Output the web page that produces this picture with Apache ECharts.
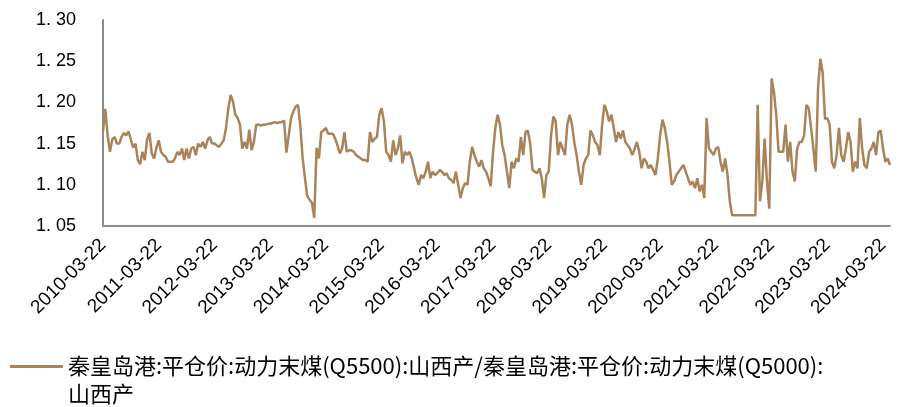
<!DOCTYPE html>
<html>
<head>
<meta charset="utf-8">
<script src="https://cdn.jsdelivr.net/npm/echarts@6/dist/echarts.min.js"></script>
<style>html,body{margin:0;padding:0;background:#fff}#chart{width:915px;height:407px}</style>
</head>
<body>
<div id="chart"></div>
<script>
// sampling dates within each year (starting at 03-22)
const monthDays = ['03-22','04-07','04-22','05-07','05-22','06-07','06-22','07-07','07-22','08-07','08-22','09-07',
                   '09-22','10-07','10-22','11-07','11-22','12-07','12-22','01-07','01-22','02-07','02-22','03-07'];
const years = [2010,2011,2012,2013,2014,2015,2016,2017,2018,2019,2020,2021,2022,2023,2024];

const v2010 = [1.165,1.192,1.160,1.140,1.155,1.158,1.150,1.150,1.158,1.163,1.160,1.165,1.155,1.145,1.150,1.130,1.125,1.140,1.130,1.155,1.163,1.138,1.132,1.145];
const v2011 = [1.154,1.140,1.136,1.134,1.128,1.128,1.128,1.132,1.140,1.136,1.144,1.130,1.144,1.132,1.144,1.146,1.136,1.150,1.146,1.152,1.144,1.154,1.158,1.150];
const v2012 = [1.150,1.148,1.146,1.150,1.154,1.169,1.193,1.209,1.201,1.185,1.181,1.173,1.144,1.152,1.144,1.167,1.142,1.152,1.173,1.173,1.172,1.173,1.173,1.174];
const v2013 = [1.174,1.175,1.176,1.175,1.176,1.176,1.178,1.139,1.160,1.181,1.189,1.195,1.197,1.172,1.132,1.108,1.086,1.082,1.078,1.060,1.145,1.132,1.164,1.166];
const v2014 = [1.169,1.162,1.162,1.162,1.156,1.148,1.138,1.144,1.164,1.140,1.142,1.142,1.140,1.136,1.134,1.132,1.130,1.130,1.128,1.164,1.152,1.156,1.158,1.185];
const v2015 = [1.193,1.177,1.140,1.136,1.128,1.154,1.136,1.144,1.160,1.126,1.140,1.136,1.140,1.132,1.120,1.108,1.100,1.112,1.108,1.116,1.128,1.108,1.116,1.112];
const v2016 = [1.114,1.118,1.116,1.112,1.114,1.108,1.106,1.102,1.116,1.100,1.084,1.096,1.102,1.100,1.128,1.146,1.136,1.128,1.122,1.130,1.120,1.116,1.108,1.098];
const v2017 = [1.140,1.169,1.185,1.173,1.148,1.136,1.116,1.096,1.128,1.120,1.132,1.128,1.158,1.136,1.164,1.166,1.150,1.118,1.116,1.114,1.120,1.108,1.084,1.112];
const v2018 = [1.116,1.160,1.183,1.177,1.136,1.152,1.144,1.136,1.173,1.185,1.173,1.152,1.136,1.116,1.100,1.124,1.132,1.136,1.166,1.160,1.152,1.148,1.136,1.173];
const v2019 = [1.197,1.189,1.177,1.185,1.169,1.152,1.164,1.156,1.166,1.152,1.148,1.144,1.136,1.144,1.152,1.140,1.120,1.132,1.128,1.120,1.124,1.118,1.112,1.132];
const v2020 = [1.160,1.179,1.169,1.152,1.128,1.100,1.104,1.112,1.116,1.120,1.124,1.116,1.108,1.100,1.104,1.096,1.108,1.092,1.100,1.084,1.181,1.144,1.140,1.136];
const v2021 = [1.144,1.146,1.128,1.116,1.132,1.112,1.080,1.063,1.063,1.063,1.063,1.063,1.063,1.063,1.063,1.063,1.063,1.063,1.197,1.080,1.104,1.156,1.104,1.071];
const v2022 = [1.229,1.213,1.185,1.140,1.140,1.140,1.173,1.128,1.152,1.116,1.104,1.144,1.152,1.152,1.160,1.197,1.193,1.169,1.144,1.116,1.217,1.253,1.236,1.180];
const v2023 = [1.181,1.173,1.128,1.120,1.136,1.169,1.136,1.128,1.144,1.164,1.152,1.116,1.128,1.120,1.181,1.144,1.124,1.120,1.140,1.144,1.152,1.136,1.164,1.166];
const v2024 = [1.144,1.128,1.132,1.124];

const yearValues = [v2010,v2011,v2012,v2013,v2014,v2015,v2016,v2017,v2018,v2019,v2020,v2021,v2022,v2023,v2024];
const seriesName = '秦皇岛港:平仓价:动力末煤(Q5500):山西产/秦皇岛港:平仓价:动力末煤(Q5000):山西产';
const yMin = 1.05, yMax = 1.30, yStep = 0.05;

const dates = [];
const values = [];
years.forEach((y, k) => {
  yearValues[k].forEach((v, j) => {
    const yy = j >= 19 ? y + 1 : y;
    dates.push(yy + '-' + monthDays[j]);
    values.push(v);
  });
});

const color = '#A9845A';
const chart = echarts.init(document.getElementById('chart'));
chart.setOption({
  animation: false,
  backgroundColor: '#fff',
  grid: { left: 103, right: 25, top: 20, bottom: 181, containLabel: false },
  xAxis: {
    type: 'category',
    data: dates,
    boundaryGap: false,
    axisLine: { show: true, lineStyle: { color: '#8c8c8c', width: 2 } },
    axisTick: { show: false },
    splitLine: { show: false },
    axisLabel: {
      interval: (idx, val) => val.endsWith('-03-22'),
      rotate: 45,
      margin: 16,
      fontSize: 19,
      color: '#000',
      fontFamily: 'Liberation Sans, Arial, sans-serif'
    }
  },
  yAxis: {
    type: 'value',
    min: yMin, max: yMax, interval: yStep,
    axisLine: { show: true, lineStyle: { color: '#8c8c8c', width: 2 } },
    axisTick: { show: false },
    splitLine: { show: false },
    axisLabel: {
      margin: 27,
      fontSize: 18,
      color: '#000',
      fontFamily: 'Liberation Sans, Arial, sans-serif',
      formatter: v => Number(v).toFixed(2).replace('.', '. ')
    }
  },
  legend: {
    left: 10, top: 352, padding: 0,
    itemWidth: 53, itemHeight: 30,
    icon: 'path://M0,0H53V3H0Z M0,30H0.05V30.05H0Z',
    itemStyle: { color: color, borderWidth: 0 },
    formatter: name => name.replace(/:山西产$/, ':\n山西产'),
    textStyle: { fontSize: 22, lineHeight: 28, color: '#000', fontFamily: 'Noto Sans CJK SC' },
    data: [seriesName]
  },
  series: [{
    name: seriesName,
    type: 'line',
    data: values,
    symbol: 'none',
    lineStyle: { color: color, width: 2.5 },
    itemStyle: { color: color }
  }]
});
</script>
</body>
</html>
